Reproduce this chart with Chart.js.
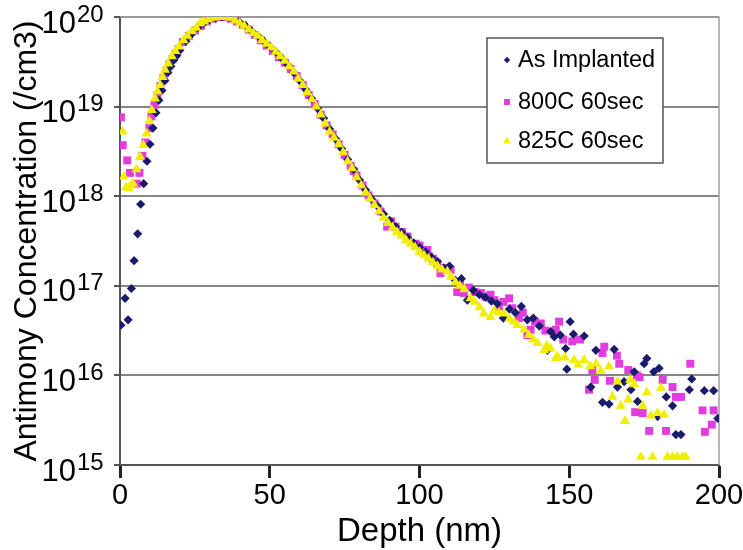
<!DOCTYPE html>
<html><head><meta charset="utf-8">
<script src="https://cdn.jsdelivr.net/npm/chart.js@4.4.0/dist/chart.umd.min.js"></script>
<style>html,body{margin:0;padding:0;background:#fff}canvas{display:block}</style>
</head><body>
<canvas id="c" width="743" height="550"></canvas>
<script>
// Series names
const seriesNames = ['As Implanted', '800C 60sec', '825C 60sec'];

// Depth (nm) and log10(concentration /cm3)
const asImplantedDepth = [0.3,1.7,2.7,3.8,4.7,5.9,6.9,7.9,9,10,11,12,13,14,15,16,17,18,19,20,
  22,24,26,28,30,32,34,36,38,40,42,44,46,48,50,52,54,56,58,60,62,64,66,68,70,72,74,76,78,80,
  82,84,86,88,90,92,94,96,98,100,102,104,106,108,110,112,114,116,118,120,122,124,126,128,130,132,134,136,138,140,
  142.7,143.8,145,147,148.8,149.2,150.3,151.4,155,157.2,158.9,161.1,163.3,165,166.1,168.3,170.6,171.7,172.8,175,
  175.9,178.2,179.5,180,182.4,184.5,185.6,187.3,190.1,190.9,195.1,198.2,199.6];
const asImplantedLog = [16.56,16.86,16.62,16.97,17.28,17.58,17.91,18.14,18.39,18.58,18.76,18.93,19.07,19.18,19.29,19.38,19.45,19.52,19.57,19.63,
  19.73,19.81,19.88,19.93,19.97,19.99,20.0,20.0,19.98,19.94,19.9,19.84,19.79,19.73,19.67,19.61,19.54,19.47,19.38,19.29,19.19,19.09,18.98,18.87,18.75,18.64,18.53,18.41,18.3,18.18,
  18.07,17.97,17.89,17.8,17.73,17.66,17.6,17.54,17.48,17.43,17.38,17.32,17.27,17.2,17.22,17.06,17.08,16.84,16.95,16.9,16.87,16.83,16.8,16.64,16.74,16.7,16.77,16.62,16.64,16.55,
  16.28,16.49,16.43,16.45,16.30,16.07,16.60,16.46,16.44,15.87,16.28,15.70,15.68,16.29,15.87,15.93,15.84,16.04,15.71,16.13,
  16.19,16.04,15.54,16.08,15.76,15.66,15.34,15.34,15.84,15.96,15.83,15.83,15.52];

const anneal800Depth = [0.3,0.9,2.4,3.3,5.6,6.5,7.5,8.5,9.8,10.5,11.5,12.5,13.5,14.5,15.5,16.5,17.5,18.5,19.5,
  21,23,25,27,29,31,33,35,37,39,41,43,45,47,49,51,53,55,57,59,61,63,65,67,69,71,73,75,77,78,79,81,83,85,87,
  89.2,90.5,92,94.2,96,98.7,100,102.6,103.1,104.5,105.9,107,108.5,110.4,112.6,113.5,114.8,116.5,118.5,120.5,
  122,123.7,125,126.5,128,129.9,131,133.2,134.5,136,
  137.1,138.5,140.5,142,144.9,145.5,146.6,148,151,153.6,
  156.6,157.7,158.5,161.1,161.7,163.6,165.9,166.7,169.7,172,
  172.6,173.5,174.5,176.7,181.2,182.3,184.5,185.6,187.3,190.4,
  194.5,195.3,197.6,198.2];
const anneal800Log = [18.88,18.57,18.40,18.26,18.14,18.26,18.45,18.6,18.76,18.89,19.02,19.13,19.23,19.32,19.4,19.47,19.53,19.59,19.64,
  19.72,19.79,19.85,19.9,19.95,19.98,20.0,20.0,19.98,19.95,19.91,19.86,19.8,19.74,19.68,19.62,19.55,19.49,19.42,19.34,19.24,19.13,19.03,18.91,18.79,18.69,18.58,18.46,18.34,18.28,18.23,18.12,18.01,17.92,17.83,
  17.66,17.72,17.66,17.6,17.55,17.47,17.45,17.40,17.33,17.3,17.25,17.14,17.2,17.18,16.93,17.02,16.92,16.98,16.93,16.92,
  16.88,16.90,16.84,16.77,16.82,16.86,16.75,16.64,16.7,16.45,
  16.51,16.6,16.58,16.5,16.49,16.51,16.60,16.4,16.38,16.40,
  15.84,16.06,15.95,16.25,16.32,15.94,16.22,16.13,16.06,15.59,
  16.0,15.98,15.58,15.38,15.95,15.38,15.87,15.76,15.76,16.13,
  15.61,15.37,15.45,15.61];

const anneal825Depth = [0.9,1.3,2.0,2.8,3.6,4.4,5.5,6.7,7.8,8.9,9.8,10.6,11.7,12.5,13.4,14.2,15,16.1,17.3,18.5,19.7,
  21.2,22.5,24,25.5,26.8,28,29.5,31,32.5,34,
  35.5,37,38.5,40,41.5,43,44.5,46,47.5,49,
  50.5,52,53.5,55,56.5,58,59.5,61,62.5,64,
  65.5,67,68.5,70,71.5,73,74.5,76,77.5,79,
  80.5,82,83.5,85,86.5,88,89.5,91,92.5,94,
  95.5,97,98.5,100,101.5,103,104.5,106,107.5,
  109.3,110.5,112,113.5,115,117,118.5,120,121.5,123.7,
  125,126.5,128.2,130,131.5,132.7,134.9,136.5,138,139.4,
  141.6,142.5,143.8,145.5,146.1,148.5,151.6,153,155,157,
  158.9,160.5,163.3,164.4,166.1,167.2,168.6,169.7,170.3,171.7,
  173.9,174.5,175.9,177.3,177.8,179.5,180.6,181.7,182.8,184.5,
  186.1,187.8,188.9];
const anneal825Log = [18.72,18.22,18.1,18.09,18.12,18.14,18.3,18.44,18.57,18.70,18.84,18.96,19.09,19.17,19.24,19.33,19.41,19.48,19.56,19.62,19.67,
  19.74,19.79,19.84,19.88,19.93,19.95,19.97,19.99,20.0,20.01,
  20.0,19.99,19.96,19.93,19.9,19.86,19.82,19.79,19.74,19.7,
  19.66,19.61,19.56,19.51,19.45,19.39,19.31,19.24,19.16,19.08,
  19.0,18.91,18.81,18.72,18.65,18.58,18.49,18.39,18.31,18.21,
  18.12,18.04,17.97,17.9,17.83,17.76,17.7,17.65,17.6,17.56,
  17.51,17.47,17.43,17.38,17.34,17.3,17.26,17.22,17.18,
  17.16,17.1,17.04,17.0,16.96,16.86,16.82,16.76,16.69,16.65,
  16.72,16.7,16.69,16.63,16.6,16.56,16.51,16.45,16.4,16.36,
  16.28,16.33,16.30,16.19,16.21,16.2,16.17,16.12,16.17,16.1,
  16.13,16.05,16.10,15.76,15.93,15.66,15.49,15.73,15.95,15.90,
  15.09,15.66,15.81,15.55,15.09,15.58,15.86,15.56,15.09,15.09,
  15.09,15.09,15.09];

// Axis ticks
const xTickValues = [0, 50, 100, 150, 200];
const yTickExponents = [15, 16, 17, 18, 19, 20];

const FONT = "'Liberation Sans', Arial, Helvetica, sans-serif";
const toPoints = (dep, lg) => dep.map((d, i) => ({ x: d, y: Math.pow(10, lg[i]) }));

const styles = [
  { color: '#1b1b6b', pointStyle: 'rectRot', radius: 4.6, legendRadius: 3.2 },
  { color: '#e03ce0', pointStyle: 'rect', radius: 5.6, legendRadius: 4.2 },
  { color: '#f2ee00', pointStyle: 'triangle', radius: 5.8, legendRadius: 4.2 }
];

const yLabelPlugin = {
  id: 'yLabels',
  afterDraw(chart) {
    const ctx = chart.ctx, ys = chart.scales.y;
    ctx.save();
    ctx.fillStyle = '#000';
    yTickExponents.forEach(e => {
      const y = ys.getPixelForValue(Math.pow(10, e));
      ctx.font = '31px ' + FONT;
      ctx.textAlign = 'right';
      ctx.textBaseline = 'middle';
      ctx.fillText('10', 76, y + 7);
      ctx.font = '24px ' + FONT;
      ctx.textAlign = 'left';
      ctx.fillText(String(e), 77, y - 2);
    });
    ctx.restore();
  }
};

const framePlugin = {
  id: 'frame',
  beforeDatasetsDraw(chart) {
    const ctx = chart.ctx, a = chart.chartArea;
    ctx.save();
    ctx.strokeStyle = '#a0a0a0';
    ctx.lineWidth = 1.5;
    ctx.beginPath();
    ctx.moveTo(a.left, a.top); ctx.lineTo(a.right, a.top); ctx.lineTo(a.right, a.bottom);
    ctx.stroke();
    ctx.restore();
  }
};

function drawMarker(ctx, st, x, y) {
  ctx.fillStyle = st.color;
  ctx.beginPath();
  const r = st.legendRadius;
  if (st.pointStyle === 'rectRot') {
    ctx.moveTo(x, y - r); ctx.lineTo(x + r, y); ctx.lineTo(x, y + r); ctx.lineTo(x - r, y);
  } else if (st.pointStyle === 'rect') {
    const s = r * Math.SQRT1_2;
    ctx.rect(x - s, y - s, 2 * s, 2 * s);
  } else {
    ctx.moveTo(x, y - r); ctx.lineTo(x + r * 0.87, y + r * 0.5); ctx.lineTo(x - r * 0.87, y + r * 0.5);
  }
  ctx.closePath();
  ctx.fill();
}

const legendPlugin = {
  id: 'boxLegend',
  afterDraw(chart) {
    const ctx = chart.ctx;
    const bx = 487, by = 38, bw = 176, bh = 125;
    ctx.save();
    ctx.fillStyle = '#fff';
    ctx.fillRect(bx, by, bw, bh);
    ctx.strokeStyle = '#555';
    ctx.lineWidth = 1.5;
    ctx.strokeRect(bx, by, bw, bh);
    const rows = [60, 102, 141];
    ctx.font = '23.5px ' + FONT;
    ctx.textBaseline = 'middle';
    ctx.textAlign = 'left';
    seriesNames.forEach((n, i) => {
      drawMarker(ctx, styles[i], 507, rows[i]);
      ctx.fillStyle = '#000';
      ctx.fillText(n, 518, rows[i] + 1);
    });
    ctx.restore();
  }
};

const datasets = [
  { label: seriesNames[0], data: toPoints(asImplantedDepth, asImplantedLog), order: 1 },
  { label: seriesNames[1], data: toPoints(anneal800Depth, anneal800Log), order: 2 },
  { label: seriesNames[2], data: toPoints(anneal825Depth, anneal825Log), order: 0 }
].map((d, i) => Object.assign(d, {
  backgroundColor: styles[i].color, borderColor: styles[i].color, borderWidth: 0,
  pointStyle: styles[i].pointStyle, pointRadius: styles[i].radius, showLine: false
}));

new Chart(document.getElementById('c'), {
  type: 'scatter',
  data: { datasets },
  options: {
    responsive: false, animation: false, devicePixelRatio: 1,
    layout: { padding: { left: 0, top: 17, right: 0, bottom: 2 } },
    plugins: { legend: { display: false }, tooltip: { enabled: false } },
    scales: {
      x: {
        type: 'linear', min: 0, max: 200,
        afterBuildTicks: s => { s.ticks = xTickValues.map(v => ({ value: v })); },
        afterFit: s => { s.paddingRight = 24; },
        ticks: { color: '#000', font: { family: FONT, size: 29, lineHeight: 1.0 }, padding: 3, maxRotation: 0 },
        grid: { drawOnChartArea: false, drawTicks: true, tickLength: 13, tickWidth: 3, tickColor: '#222' },
        border: { color: '#555', width: 2 },
        title: { display: true, text: 'Depth (nm)', color: '#000', font: { family: FONT, size: 33, lineHeight: 1.0 }, padding: { top: 2, bottom: 0 } }
      },
      y: {
        type: 'logarithmic', min: 1e15, max: 1e20,
        afterBuildTicks: s => { s.ticks = yTickExponents.map(e => ({ value: Math.pow(10, e) })); },
        ticks: { display: false },
        grid: { color: '#858585', lineWidth: 2, drawTicks: true, tickLength: 6, tickColor: '#555' },
        border: { color: '#555', width: 2 },
        title: { display: true, text: 'Antimony Concentration (/cm3)', color: '#000', font: { family: FONT, size: 32, lineHeight: 1.0 }, padding: { top: 11, bottom: 71 } }
      }
    }
  },
  plugins: [framePlugin, yLabelPlugin, legendPlugin]
});
</script>
</body></html>
